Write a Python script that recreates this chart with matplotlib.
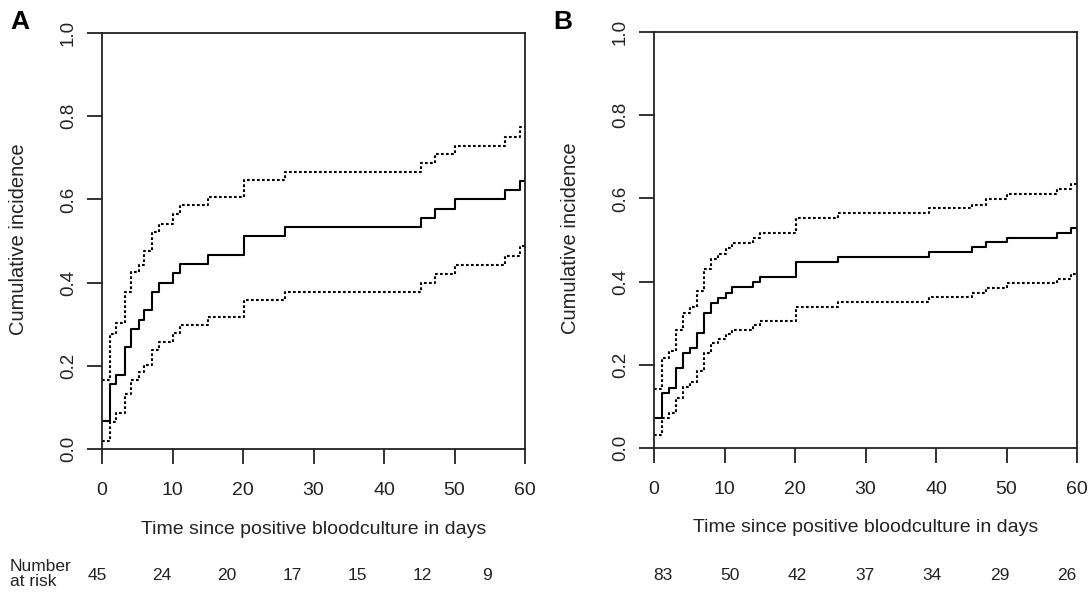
import matplotlib
matplotlib.use("Agg")
import matplotlib.pyplot as plt
import numpy as np

plt.rcParams['font.family'] = ['Liberation Sans', 'DejaVu Sans']

# Panel A: cumulative incidence with 95% CI
times_a = [0, 1.1, 2, 3.2, 4.1, 5.2, 6, 7.1, 8.1, 10, 11.1, 15.1, 20.1, 26,
           45.2, 47.2, 50, 57.2, 59.3]
est_a = [0.067, 0.156, 0.178, 0.244, 0.289, 0.311, 0.333, 0.378, 0.4, 0.422,
         0.444, 0.467, 0.511, 0.533, 0.556, 0.578, 0.6, 0.622, 0.644]
upper_a = [0.166, 0.277, 0.304, 0.377, 0.425, 0.443, 0.475, 0.521, 0.542,
           0.564, 0.586, 0.606, 0.647, 0.667, 0.688, 0.708, 0.728, 0.749, 0.773]
lower_a = [0.019, 0.066, 0.086, 0.132, 0.166, 0.184, 0.202, 0.237, 0.257,
           0.279, 0.299, 0.317, 0.359, 0.378, 0.399, 0.42, 0.443, 0.463, 0.487]
at_risk_a = [45, 24, 20, 17, 15, 12, 9]

# Panel B
times_b = [0, 1.18, 2.17, 3.12, 4.07, 5.1, 6.15, 7.14, 8.09, 9.12, 10.17, 11.1,
           14.1, 15.1, 20.1, 26.06, 39.05, 45.15, 47.1, 50.0, 57.1, 59.1]
est_b = [0.072, 0.133, 0.145, 0.193, 0.229, 0.241, 0.277, 0.325, 0.349, 0.361,
         0.373, 0.386, 0.398, 0.41, 0.446, 0.458, 0.47, 0.482, 0.494, 0.506,
         0.518, 0.53]
upper_b = [0.142, 0.216, 0.234, 0.284, 0.324, 0.34, 0.377, 0.43, 0.454, 0.466,
           0.48, 0.492, 0.504, 0.516, 0.552, 0.564, 0.576, 0.584, 0.598, 0.61,
           0.622, 0.634]
lower_b = [0.031, 0.071, 0.083, 0.119, 0.147, 0.159, 0.186, 0.229, 0.252, 0.261,
           0.273, 0.284, 0.296, 0.306, 0.338, 0.352, 0.364, 0.372, 0.384, 0.397,
           0.406, 0.418]
at_risk_b = [83, 50, 42, 37, 34, 29, 26]

x_ticks = [0, 10, 20, 30, 40, 50, 60]
y_ticks = [0.0, 0.2, 0.4, 0.6, 0.8, 1.0]

W, H = 1090, 597
fig = plt.figure(figsize=(W / 100, H / 100), dpi=100)


def px_axes(left, top, right, bottom):
    # pixel box -> figure fraction
    return [left / W, 1 - bottom / H, (right - left) / W, (bottom - top) / H]


def draw_panel(ax, times, est, lower, upper):
    t = np.append(times, 60)
    for vals, ls in [(est, '-'), (upper, (0, (1.3, 1.1))), (lower, (0, (1.3, 1.1)))]:
        v = np.append(vals, vals[-1])
        ax.step(t, v, where='post', color='black', lw=1.5, linestyle=ls)

    ax.set_xlim(0, 60)
    ax.set_ylim(0, 1)
    ax.set_xticks(x_ticks)
    ax.set_yticks(y_ticks)
    ax.set_yticklabels(["%.1f" % v for v in y_ticks], rotation=90, va='center')
    ax.tick_params(axis='both', direction='out', length=11, width=1.3,
                   color='#222222', labelcolor='#222222')
    ax.tick_params(axis='x', labelsize=14, pad=13)
    ax.tick_params(axis='y', labelsize=13.5, pad=7)
    for s in ax.spines.values():
        s.set_linewidth(1.3)
        s.set_color('#222222')

    ax.set_xlabel("Time since positive bloodculture in days", fontsize=14,
                  color='#222222')
    ax.xaxis.set_label_coords(0.5, (449 - 529) / 416)
    ax.xaxis.label.set_va('center')
    ax.set_ylabel("Cumulative incidence", fontsize=14.5, color='#222222')
    ax.yaxis.set_label_coords((19 - 102) / 423, (449 - 239) / 416)
    ax.yaxis.label.set_va('center')


ax_a = fig.add_axes(px_axes(102, 33, 525, 449))
draw_panel(ax_a, times_a, est_a, lower_a, upper_a)

ax_b = fig.add_axes(px_axes(654, 32, 1077, 448))
draw_panel(ax_b, times_b, est_b, lower_b, upper_b)

# panel letters
fig.text(10 / W, 1 - 22 / H, "A", fontsize=19, fontweight='bold', va='center')
fig.text(553 / W, 1 - 22 / H, "B", fontsize=19, fontweight='bold', va='center')

# number at risk rows
fig.text(10 / W, 1 - 574 / H, "Number\nat risk", fontsize=12.5, va='center',
         color='#222222', linespacing=1.0)
for i, n in enumerate(at_risk_a):
    fig.text((97 + i * 65) / W, 1 - 575 / H, str(n), fontsize=12.5,
             ha='center', va='center', color='#222222')
for i, n in enumerate(at_risk_b):
    fig.text((663 + i * 67.3) / W, 1 - 575 / H, str(n), fontsize=12.5,
             ha='center', va='center', color='#222222')

fig.savefig("out.png", dpi=100)
